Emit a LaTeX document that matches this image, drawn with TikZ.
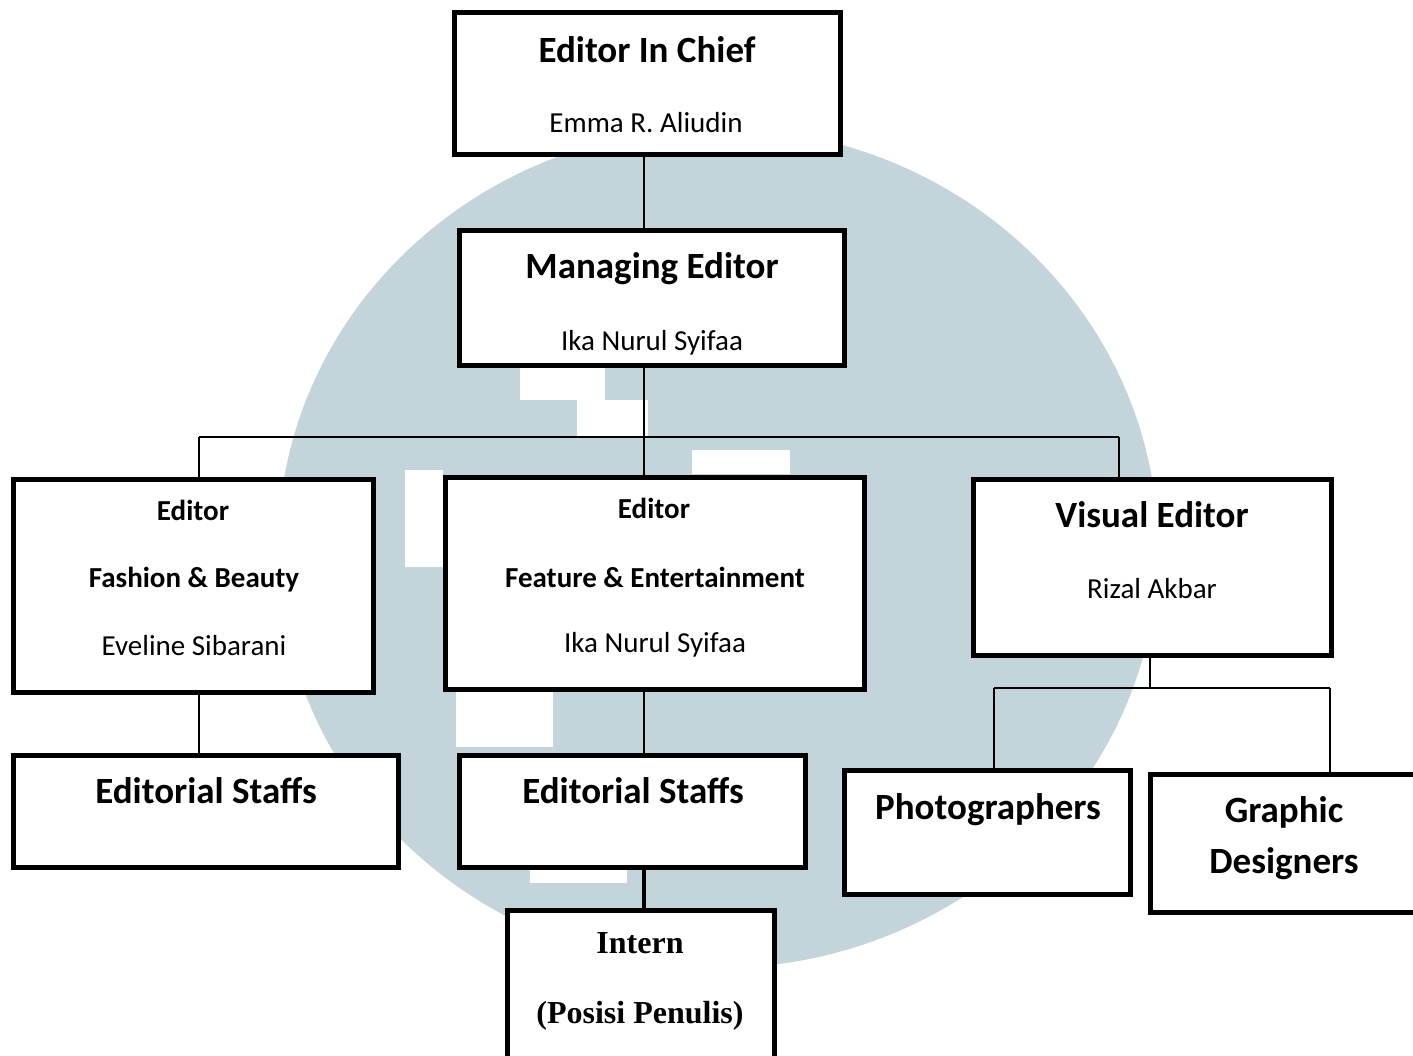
\documentclass[tikz,border=0pt]{standalone}
\usepackage{fontspec}
\setmainfont{Carlito}
\newfontfamily\serifrm{Liberation Serif}
\definecolor{wmark}{RGB}{195,212,219}

\begin{document}
\begin{tikzpicture}[x=0.5pt, y=-0.5pt,
  box/.style={draw, line width=2.5pt, fill=white, inner sep=0pt},
  link/.style={line width=0.75pt},
  big/.style={font=\fontsize{18.5}{22}\selectfont\bfseries, anchor=base, inner sep=0pt},
  mid/.style={font=\fontsize{14.5}{17}\selectfont\bfseries, anchor=base, inner sep=0pt},
  who/.style={font=\fontsize{14.5}{17}\selectfont, anchor=base, inner sep=0pt},
  tnr/.style={font=\serifrm\fontsize{16}{19}\selectfont\bfseries, anchor=base, inner sep=0pt}]

  \useasboundingbox (0,0) rectangle (1413,1055);

  %% watermark behind the chart
  \fill[wmark] (718,548) ellipse [x radius=220pt, y radius=210pt];
  \fill[white] (405,470) rectangle (443,567);
  \fill[white] (456,692) rectangle (553,747);
  \fill[white] (692,450) rectangle (790,474);
  \fill[white] (520,368) rectangle (605,400);
  \fill[white] (577,400) rectangle (648,437);
  \fill[white] (530,870) rectangle (627,883);

  \coordinate (bar) at (644,437);
  \coordinate (barL) at (199,437);
  \coordinate (barR) at (1119,437);
  \coordinate (vbar) at (1150,688);
  \coordinate (vbarL) at (994,688);
  \coordinate (vbarR) at (1330,688);

  \node[box, minimum width=193pt, minimum height=71pt] (chief) at (647.5,83.5) {};
  \node[box, minimum width=192.5pt, minimum height=67.5pt] (managing) at (652,298) {};
  \node[box, minimum width=180pt, minimum height=106.5pt] (fashion) at (193.5,586) {};
  \node[box, minimum width=209.5pt, minimum height=106pt] (feature) at (655,583.5) {};
  \node[box, minimum width=179pt, minimum height=88pt] (visual) at (1152.5,567.5) {};
  \node[box, minimum width=192.5pt, minimum height=56pt] (staffsL) at (206,811.5) {};
  \node[box, minimum width=173pt, minimum height=56pt] (staffsM) at (632.5,811.5) {};
  \node[box, minimum width=143pt, minimum height=62pt] (photo) at (987.5,832.5) {};
  \node[box, minimum width=136pt, minimum height=69pt] (graphic) at (1286.5,843.5) {};
  \node[box, minimum width=133.5pt, minimum height=78.5pt] (intern) at (641,989) {};

  \draw[link] (chief.south -| bar) -- (managing.north -| bar); %% chief -> managing
  \draw[link] (managing.south -| bar) -- (feature.north -| bar);
  \draw[link] (barL) -- (barR);
  \draw[link] (barL) -- (barL |- fashion.north);
  \draw[link] (barR) -- (barR |- visual.north);
  \draw[link] (fashion.south -| barL) -- (staffsL.north -| barL);
  \draw[link] (feature.south -| bar) -- (staffsM.north -| bar);
  \draw[line width=2pt] (staffsM.south -| bar) -- (intern.north -| bar); %% staffs -> intern
  \draw[link] (visual.south -| vbar) -- (vbar);
  \draw[link] (vbarL) -- (vbarR);
  \draw[link] (vbarL) -- (vbarL |- photo.north);
  \draw[link] (vbarR) -- (vbarR |- graphic.north);

  \node[big] (tChief) at (647,62) {Editor In Chief};
  \node[who] (nChief) at (646,132) {Emma R. Aliudin};
  \node[big] (tManaging) at (652,278) {Managing Editor};
  \node[who] (nManaging) at (652,350) {Ika Nurul Syifaa};
  \node[mid] (tFashion) at (193,520) {Editor};
  \node[mid] (dFashion) at (194,587) {Fashion \& Beauty};
  \node[who] (nFashion) at (194,655) {Eveline Sibarani};
  \node[mid] (tFeature) at (654,518) {Editor};
  \node[mid] (dFeature) at (655,587) {Feature \& Entertainment};
  \node[who] (nFeature) at (655,652) {Ika Nurul Syifaa};
  \node[big] (tVisual) at (1152,527) {Visual Editor};
  \node[who] (nVisual) at (1152,598) {Rizal Akbar};
  \node[big] (tStaffsL) at (206,803) {Editorial Staffs};
  \node[big] (tStaffsM) at (633,803) {Editorial Staffs};
  \node[big] (tPhoto) at (988,819) {Photographers};
  \node[big] (tGraphic) at (1284,822) {Graphic};
  \node[big] (tDesign) at (1284,873) {Designers};
  \node[tnr] (tIntern) at (640,953) {Intern};
  \node[tnr] (nIntern) at (640,1023) {(Posisi Penulis)};

\end{tikzpicture}
\end{document}
